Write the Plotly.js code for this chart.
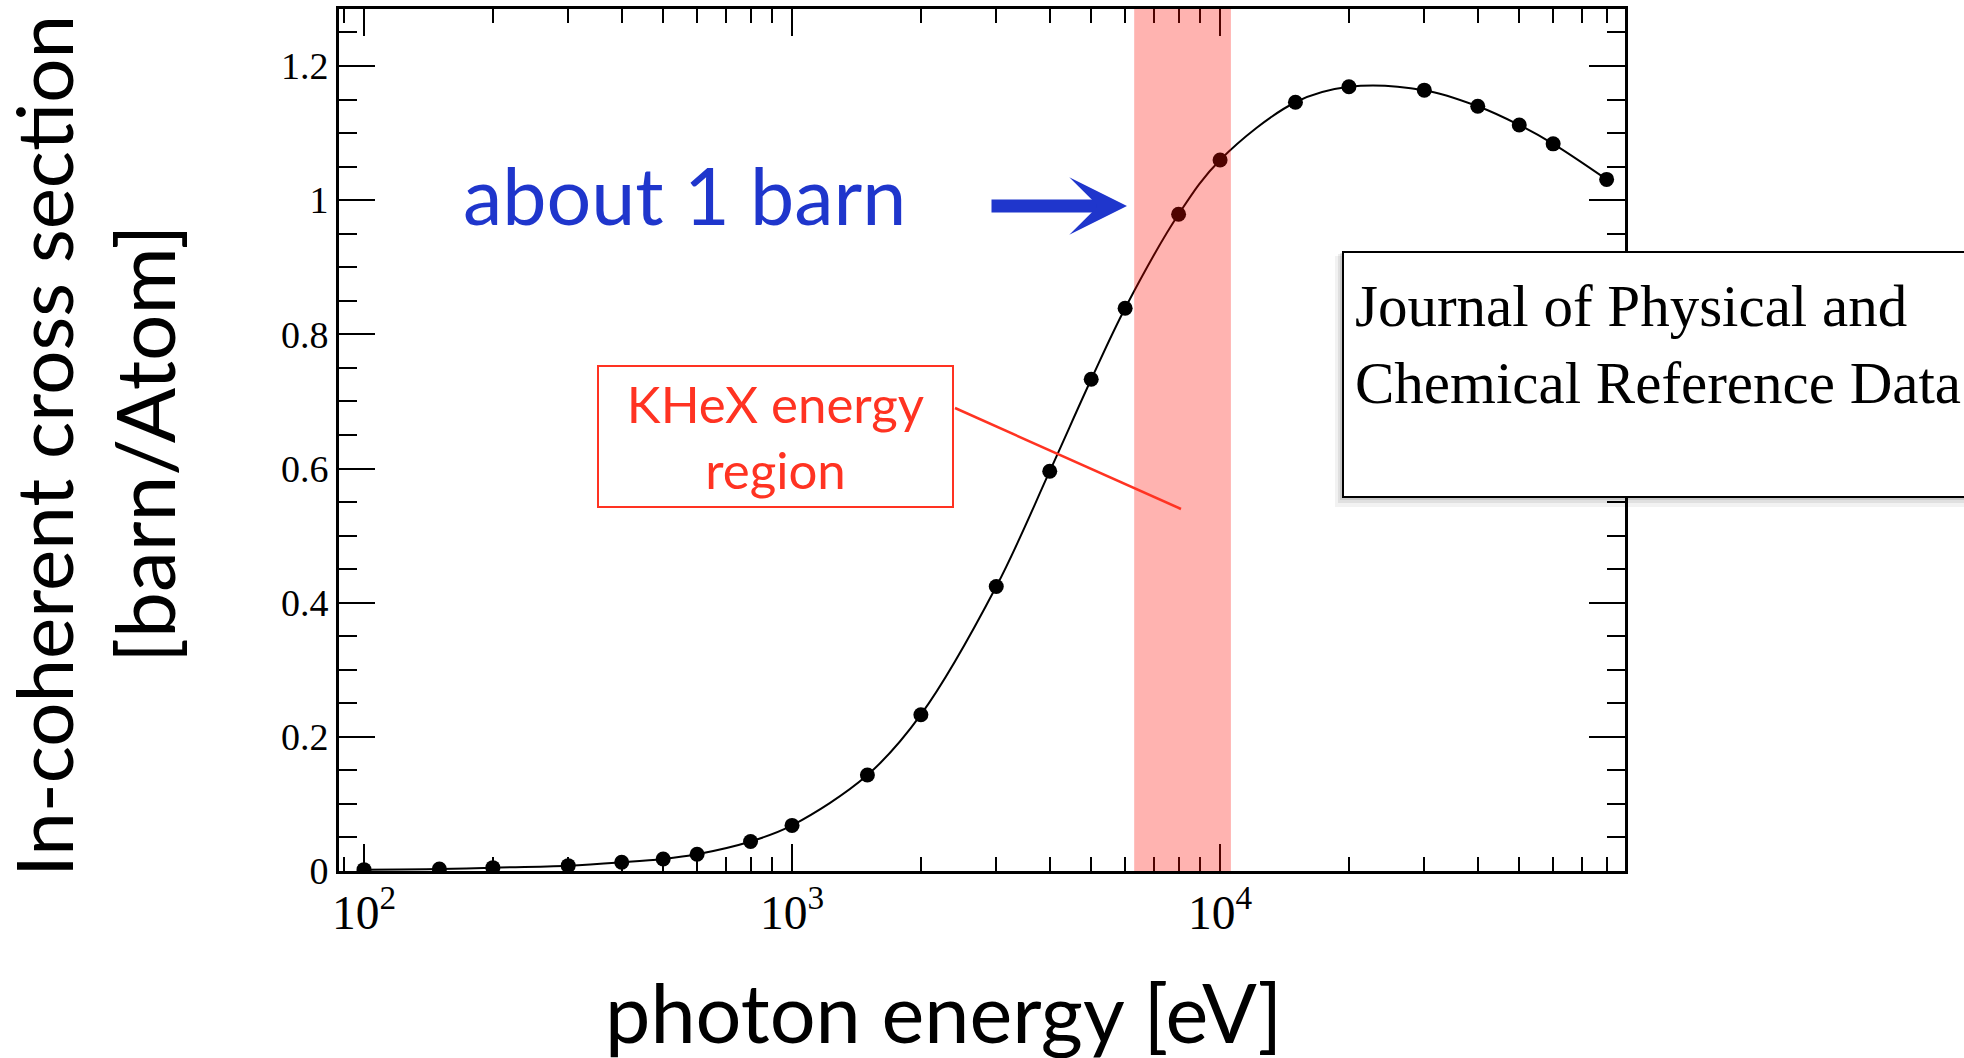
<!DOCTYPE html>
<html>
<head>
<meta charset="utf-8">
<script src="https://cdn.plot.ly/plotly-3.0.1.min.js"></script>
<style>
  html, body { margin: 0; padding: 0; background: #ffffff; }
  #chart { width: 1964px; height: 1058px; }
</style>
</head>
<body>
<div id="chart"></div>
<script>
// Incoherent (Compton) scattering cross section vs photon energy
const energyEV = [100, 150, 200, 300, 400, 500, 600, 800, 1000, 1500, 2000, 3000,
                  4000, 5000, 6000, 8000, 10000, 15000, 20000, 30000, 40000, 50000, 60000, 80000];
const crossSection = [0.002, 0.003, 0.005, 0.008, 0.013, 0.018, 0.025, 0.044, 0.068, 0.143, 0.233, 0.424,
                      0.596, 0.733, 0.839, 0.979, 1.060, 1.146, 1.169, 1.164, 1.140, 1.112, 1.084, 1.031];

// KHeX energy window [eV]
const khexBand = [6300, 10600];

const yTickValues = [0, 0.2, 0.4, 0.6, 0.8, 1, 1.2];

// plot-area geometry (pixels) used to place the decorations
const W = 1964, H = 1058;
const plotL = 339, plotR = 1625, plotT = 9, plotB = 871;
const px = x => (x - plotL) / (plotR - plotL);
const py = y => (plotB - y) / (plotB - plotT);

const sans = 'Lato, "Open Sans", sans-serif';
const serif = '"Liberation Serif", "Times New Roman", serif';
const blue = '#1f36cc';
const red = '#ff3322';

const trace = {
  x: energyEV,
  y: crossSection,
  type: 'scatter',
  mode: 'lines+markers',
  line: { color: '#000000', width: 2, shape: 'spline', smoothing: 1 },
  marker: { color: '#000000', size: 15 },
  hoverinfo: 'skip'
};

const shapes = [
  // KHeX band, semi-transparent, laid over the curve
  { type: 'rect', layer: 'above', xref: 'x', yref: 'paper',
    x0: khexBand[0], x1: khexBand[1], y0: 0, y1: 1,
    fillcolor: 'rgba(255,10,0,0.31)', line: { width: 0 } },
  // callout line from the label box into the band
  { type: 'line', layer: 'above', xref: 'paper', yref: 'paper',
    x0: px(955), y0: py(408), x1: px(1181), y1: py(509),
    line: { color: red, width: 2.5 } },
  // soft shadow under the reference box
  { type: 'rect', layer: 'above', xref: 'paper', yref: 'paper',
    x0: px(1335), x1: px(2000), y0: py(507), y1: py(256),
    fillcolor: 'rgba(0,0,0,0.05)', line: { width: 0 } },
  { type: 'rect', layer: 'above', xref: 'paper', yref: 'paper',
    x0: px(1338), x1: px(2000), y0: py(503), y1: py(254),
    fillcolor: 'rgba(0,0,0,0.07)', line: { width: 0 } },
  { type: 'rect', layer: 'above', xref: 'paper', yref: 'paper',
    x0: px(1340), x1: px(2000), y0: py(500), y1: py(253),
    fillcolor: 'rgba(0,0,0,0.10)', line: { width: 0 } },
  // reference box
  { type: 'rect', layer: 'above', xref: 'paper', yref: 'paper',
    x0: px(1343), x1: px(2000), y0: py(497), y1: py(252),
    fillcolor: '#ffffff', line: { color: '#000000', width: 2 } }
];

const annotations = [
  { text: 'about 1 barn', xref: 'paper', yref: 'paper', x: px(684), y: py(194),
    xanchor: 'center', yanchor: 'middle', showarrow: false,
    font: { family: sans, size: 79, color: blue } },
  { text: '', xref: 'paper', yref: 'paper', x: px(1127), y: py(206),
    ax: -137, ay: 0, axref: 'pixel', ayref: 'pixel',
    showarrow: true, arrowhead: 3, arrowsize: 0.74, arrowwidth: 13,
    arrowcolor: blue, standoff: 0, startstandoff: 0 },
  { text: 'KHeX energy<br>region', xref: 'paper', yref: 'paper',
    x: px(775.5), y: py(436.5), xanchor: 'center', yanchor: 'middle',
    width: 353, height: 139, borderpad: 0, borderwidth: 2, bordercolor: red,
    bgcolor: 'rgba(255,255,255,0)', showarrow: false, align: 'center',
    font: { family: sans, size: 51, color: red } },
  { text: 'Journal of Physical and<br>Chemical Reference Data', xref: 'paper', yref: 'paper',
    x: px(1353), y: py(271), xanchor: 'left', yanchor: 'top', align: 'left',
    showarrow: false, font: { family: serif, size: 59, color: '#000000' } },
  { text: 'In-coherent cross section', xref: 'paper', yref: 'paper',
    x: px(43), y: py(446), xanchor: 'center', yanchor: 'middle', textangle: -90,
    showarrow: false, font: { family: sans, size: 78, color: '#000000' } },
  { text: '[barn/Atom]', xref: 'paper', yref: 'paper',
    x: px(143), y: py(444), xanchor: 'center', yanchor: 'middle', textangle: -90,
    showarrow: false, font: { family: sans, size: 82, color: '#000000' } },
  { text: 'photon energy [eV]', xref: 'paper', yref: 'paper',
    x: px(943), y: py(1011), xanchor: 'center', yanchor: 'middle',
    showarrow: false, font: { family: sans, size: 81, color: '#000000' } }
];

const axisCommon = {
  showline: true, linecolor: '#000000', linewidth: 3, mirror: 'allticks',
  ticks: 'inside', tickcolor: '#000000', tickwidth: 2,
  showgrid: false, zeroline: false,
  tickfont: { family: serif, size: 38, color: '#000000' }
};

const layout = {
  width: W, height: H,
  margin: { l: plotL, r: W - plotR, t: plotT, b: H - plotB, pad: 0 },
  paper_bgcolor: '#ffffff', plot_bgcolor: '#ffffff',
  showlegend: false,
  xaxis: Object.assign({}, axisCommon, {
    type: 'log', range: [1.9416, 4.946], dtick: 1,
    exponentformat: 'power', showexponent: 'all',
    ticklen: 27,
    minor: { ticks: 'inside', ticklen: 14, tickwidth: 2, tickcolor: '#000000', dtick: 'D1', showgrid: false }
  }),
  yaxis: Object.assign({}, axisCommon, {
    range: [0, 1.285], tickmode: 'array', tickvals: yTickValues,
    ticklen: 36,
    minor: { ticks: 'inside', ticklen: 18, tickwidth: 2, tickcolor: '#000000', dtick: 0.05, tick0: 0, showgrid: false }
  }),
  shapes: shapes,
  annotations: annotations
};

Plotly.newPlot('chart', [trace], layout, { staticPlot: true, displayModeBar: false });
</script>
</body>
</html>
